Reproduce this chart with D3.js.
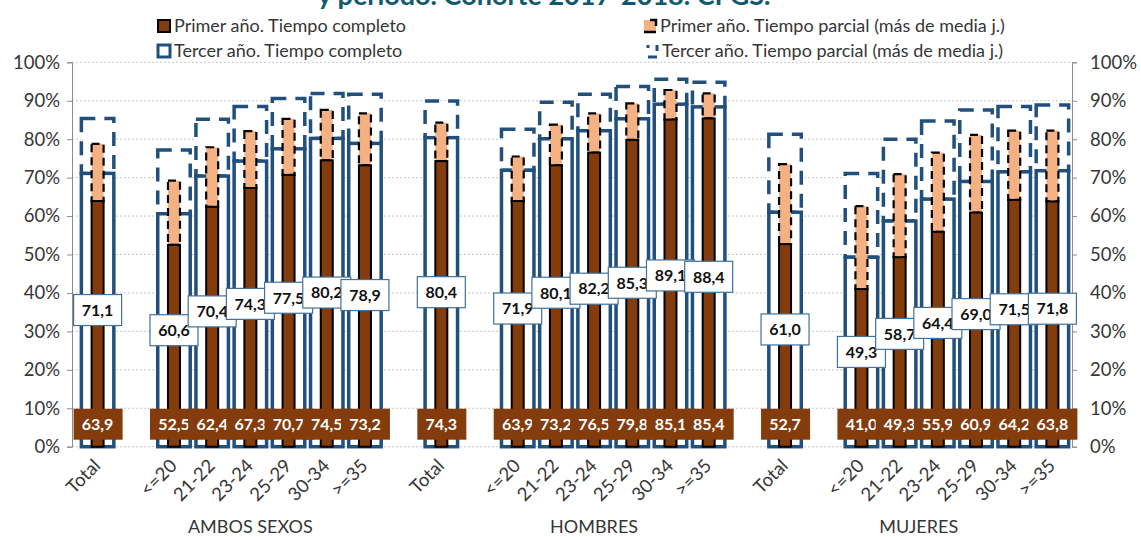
<!DOCTYPE html>
<html>
<head>
<meta charset="utf-8">
<script src="https://cdn.jsdelivr.net/npm/d3@7"></script>
<style>
	body { margin: 0; background: #fff; }
	svg { display: block; font-family: Lato, "Open Sans", sans-serif; }
</style>
</head>
<body>
<svg id="chart" width="1141" height="537"></svg>
<script>
// groups and age categories (same categories repeated for each group)
const groups = ["AMBOS SEXOS", "HOMBRES", "MUJERES"]
const categories = ["Total", "<=20", "21-22", "23-24", "25-29", "30-34", ">=35"]

// values in %, 7 per group, in the order of groups
const primer_completo = [63.9, 52.5, 62.4, 67.3, 70.7, 74.5, 73.2,
	74.3, 63.9, 73.2, 76.5, 79.8, 85.1, 85.4,
	52.7, 41.0, 49.3, 55.9, 60.9, 64.2, 63.8]
const primer_parcial = [14.9, 16.7, 15.5, 14.8, 14.6, 13.1, 13.5,
	10.0, 11.6, 10.6, 10.2, 9.5, 7.7, 6.5,
	20.8, 21.6, 21.6, 20.6, 20.2, 18.0, 18.4]
const tercer_completo = [71.1, 60.6, 70.4, 74.3, 77.5, 80.2, 78.9,
	80.4, 71.9, 80.1, 82.2, 85.3, 89.1, 88.4,
	61.0, 49.3, 58.7, 64.4, 69.0, 71.5, 71.8]
const tercer_parcial = [14.3, 16.6, 14.8, 14.2, 13.1, 11.7, 12.8,
	9.5, 10.7, 9.5, 9.5, 8.4, 6.5, 6.4,
	20.3, 21.8, 21.3, 20.3, 18.6, 17.0, 17.1]

const y_ticks = [0, 10, 20, 30, 40, 50, 60, 70, 80, 90, 100]

const brown = "#843C0C", peach = "#F4B183", blue = "#22507D", txt = "#363636"

// one slot per category, a blank slot after "Total" and between groups
function slot_of(g, c) { return g * 9 + (c === 0 ? 0 : c + 1) }
const n_slots = slot_of(groups.length - 1, categories.length - 1) + 1

var data = []
groups.forEach(function(g, gi) {
	categories.forEach(function(c, ci) {
		var i = gi * categories.length + ci
		data.push({group: g, cat: c, slot: slot_of(gi, ci),
			pc: primer_completo[i], pp: primer_parcial[i],
			tc: tercer_completo[i], tp: tercer_parcial[i]})
	})
})

var svg = d3.select("#chart")
var left = 72, right = 1072

var xScale = d3.scaleBand().domain(d3.range(n_slots)).range([78.5, 1071.5]).padding(0)
var yScale = d3.scaleLinear().domain([0, 100]).range([446.7, 62.3])
var bw = xScale.bandwidth()
function cx(d) { return xScale(d.slot) + bw / 2 }

// title (cut at the top in the original)
svg.append("text")
	.attr("x", 544)
	.attr("y", 5)
	.attr("text-anchor", "middle")
	.attr("font-size", "27px")
	.attr("font-weight", "bold")
	.attr("fill", "#0F5A6E")
	.text("y período. Cohorte 2017-2018. CFGS.")

// gridlines
svg.append("g").selectAll("line")
	.data(y_ticks).enter().append("line")
	.attr("x1", left).attr("x2", right)
	.attr("y1", function(d) { return yScale(d) }).attr("y2", function(d) { return yScale(d) })
	.attr("stroke", "#C8C8C8").attr("stroke-dasharray", "2,2")

// left and right axes
var fmt = function(d) { return d + "%" }
var axL = svg.append("g").attr("transform", "translate(" + left + ",0)")
	.call(d3.axisLeft(yScale).tickValues(y_ticks).tickFormat(fmt).tickSize(5).tickPadding(7))
var axR = svg.append("g").attr("transform", "translate(" + right + ",0)")
	.call(d3.axisRight(yScale).tickValues(y_ticks).tickFormat(fmt).tickSize(5).tickPadding(13))
;[axL, axR].forEach(function(ax) {
	ax.select(".domain").attr("stroke", "#8C8C8C")
	ax.selectAll(".tick line").attr("stroke", "#8C8C8C")
	ax.selectAll(".tick text").attr("fill", txt).attr("font-size", "18.5px").attr("font-family", "Lato")
})

// tercer año: wide outlined bars
var wide = bw * 0.85
svg.append("g").selectAll("rect")
	.data(data).enter().append("rect")
	.attr("x", function(d) { return cx(d) - wide / 2 })
	.attr("width", wide)
	.attr("y", function(d) { return yScale(d.tc + d.tp) })
	.attr("height", function(d) { return yScale(d.tc) - yScale(d.tc + d.tp) })
	.attr("fill", "white")
	.attr("stroke", blue).attr("stroke-width", 3.5).attr("stroke-dasharray", "14,9")

svg.append("g").selectAll("rect")
	.data(data).enter().append("rect")
	.attr("x", function(d) { return cx(d) - wide / 2 })
	.attr("width", wide)
	.attr("y", function(d) { return yScale(d.tc) })
	.attr("height", function(d) { return yScale(0) - yScale(d.tc) })
	.attr("fill", "white")
	.attr("stroke", blue).attr("stroke-width", 3.5)

// primer año: narrow bars on top
var narrow = 12
svg.append("g").selectAll("rect")
	.data(data).enter().append("rect")
	.attr("x", function(d) { return cx(d) - narrow / 2 })
	.attr("width", narrow)
	.attr("y", function(d) { return yScale(d.pc + d.pp) })
	.attr("height", function(d) { return yScale(d.pc) - yScale(d.pc + d.pp) })
	.attr("fill", peach)
	.attr("stroke", "black").attr("stroke-width", 2.2).attr("stroke-dasharray", "8,5")

svg.append("g").selectAll("rect")
	.data(data).enter().append("rect")
	.attr("x", function(d) { return cx(d) - narrow / 2 })
	.attr("width", narrow)
	.attr("y", function(d) { return yScale(d.pc) })
	.attr("height", function(d) { return yScale(0) - yScale(d.pc) })
	.attr("fill", brown)
	.attr("stroke", "black").attr("stroke-width", 2)

var num = function(v) { return v.toFixed(1).replace(".", ",") }
var lw = 48, lh = 31

// primer año completo labels (inside base)
var lab1 = svg.append("g")
data.forEach(function(d) {
	var yc = yScale(0) - 7 - lh / 2
	lab1.append("rect")
		.attr("x", cx(d) - lw / 2).attr("y", yc - lh / 2)
		.attr("width", lw + 1).attr("height", lh)
		.attr("fill", brown)
	lab1.append("text")
		.attr("x", cx(d)).attr("y", yc).attr("dy", "0.36em")
		.attr("text-anchor", "middle")
		.attr("font-size", "16px").attr("font-weight", "bold")
		.attr("fill", "white")
		.text(num(d.pc))
})

// tercer año completo labels (centre)
var lab2 = svg.append("g")
data.forEach(function(d) {
	var yc = yScale(d.tc / 2)
	lab2.append("rect")
		.attr("x", cx(d) - lw / 2).attr("y", yc - lh / 2)
		.attr("width", lw).attr("height", lh)
		.attr("fill", "white")
		.attr("stroke", "#41719C").attr("stroke-width", 1.2)
	lab2.append("text")
		.attr("x", cx(d)).attr("y", yc).attr("dy", "0.36em")
		.attr("text-anchor", "middle")
		.attr("font-size", "16px").attr("font-weight", "bold")
		.attr("fill", "#111")
		.text(num(d.tc))
})

// category labels
svg.append("g").selectAll("text")
	.data(data).enter().append("text")
	.attr("transform", function(d) { return "translate(" + (cx(d) + 4) + ",467) rotate(-45)" })
	.attr("text-anchor", "end")
	.attr("font-size", "18.5px")
	.attr("fill", txt)
	.text(function(d) { return d.cat })

// group labels
svg.append("g").selectAll("text")
	.data(groups).enter().append("text")
	.attr("x", function(g, gi) {
		var s0 = slot_of(gi, 0), s1 = Math.min(s0 + 8, n_slots - 1)
		return (xScale(s0) + xScale(s1) + bw) / 2
	})
	.attr("y", 533)
	.attr("text-anchor", "middle")
	.attr("font-size", "18px")
	.attr("fill", txt)
	.text(function(g) { return g })

// legend
var legend = svg.append("g").attr("font-size", "18px").attr("fill", txt)
legend.append("rect").attr("x", 158).attr("y", 20).attr("width", 12).attr("height", 12)
	.attr("fill", brown).attr("stroke", "black").attr("stroke-width", 2)
legend.append("text").attr("x", 174).attr("y", 32).text("Primer año. Tiempo completo")
legend.append("rect").attr("x", 158).attr("y", 45).attr("width", 12).attr("height", 12)
	.attr("fill", "white").attr("stroke", blue).attr("stroke-width", 3)
legend.append("text").attr("x", 174).attr("y", 57).text("Tercer año. Tiempo completo")
legend.append("rect").attr("x", 644).attr("y", 20).attr("width", 12).attr("height", 12)
	.attr("fill", peach).attr("stroke", "black").attr("stroke-width", 2.5)
	.attr("stroke-dasharray", "0,6,12,6,12,12")
legend.append("text").attr("x", 660).attr("y", 32).text("Primer año. Tiempo parcial (más de media j.)")
legend.append("rect").attr("x", 648).attr("y", 45).attr("width", 9).attr("height", 12)
	.attr("fill", "none").attr("stroke", blue).attr("stroke-width", 3)
	.attr("stroke-dasharray", "0,9,6,6,9,9,6,6")
legend.append("text").attr("x", 662).attr("y", 57).text("Tercer año. Tiempo parcial (más de media j.)")
</script>
</body>
</html>
